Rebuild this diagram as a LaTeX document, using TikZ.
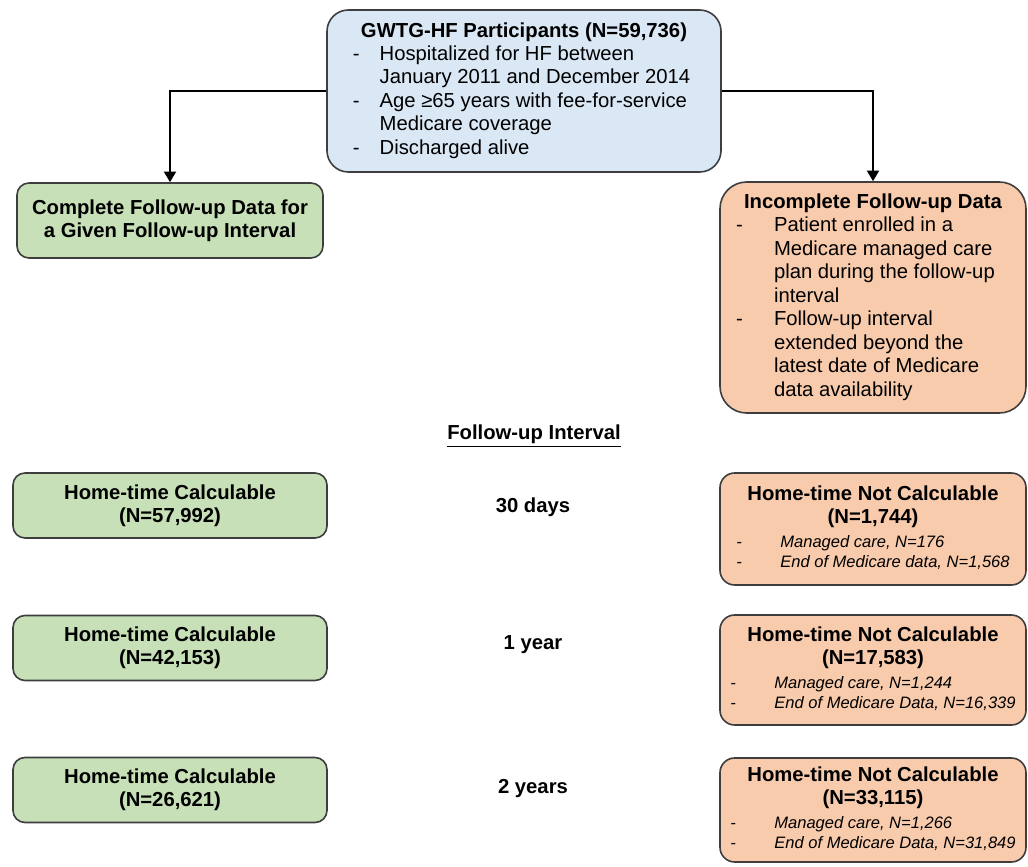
\documentclass[tikz,border=0pt]{standalone}
\usepackage{fontspec}
\setmainfont{Liberation Sans}
\usetikzlibrary{arrows.meta}

\definecolor{boxblue}{RGB}{218,231,244}
\definecolor{boxgreen}{RGB}{199,224,183}
\definecolor{boxorange}{RGB}{248,203,173}
\definecolor{boxline}{RGB}{62,62,62}

\newcommand{\hy}[1]{\makebox[#1][l]{-}}
\newcommand{\reason}[1]{\fontsize{12.4}{14}\selectfont\itshape\hy{33pt}&\fontsize{12.4}{14}\selectfont\itshape #1}

\begin{document}
\begin{tikzpicture}[x=0.75pt,y=-0.75pt]
    \tikzstyle{flowbox}=[draw=boxline, line width=1.2pt, inner sep=0pt, font=\fontsize{15.2}{17.6}\selectfont]
    \tikzstyle{startbox}=[flowbox, fill=boxblue, rounded corners=16pt, minimum width=295.5pt, minimum height=121.5pt]
    \tikzstyle{okbox}=[flowbox, fill=boxgreen, rounded corners=9pt, align=center, font=\fontsize{15.2}{17.6}\selectfont\bfseries]
    \tikzstyle{nobox}=[flowbox, fill=boxorange, minimum width=229.5pt]
    \tikzstyle{interval}=[font=\fontsize{15.2}{17.6}\selectfont\bfseries]
    \tikzstyle{flow}=[line width=1.6pt, -{Triangle[length=8pt,width=9pt]}]

    \useasboundingbox (0,0) rectangle (1028,867);

    % top
    \node[startbox] (gwtg) at (524,91) {%
        \begin{tabular}{@{}l@{}l@{}}
        \multicolumn{2}{c}{\textbf{GWTG-HF Participants (N=59,736)}}\\
        \hy{20pt} & Hospitalized for HF between\\
                  & January 2011 and December 2014\\
        \hy{20pt} & Age ≥65 years with fee-for-service\\
                  & Medicare coverage\\
        \hy{20pt} & Discharged alive
        \end{tabular}};

    % two branches
    \node[okbox, minimum width=229.5pt, minimum height=56.25pt] (complete) at (170,220.5)
        {Complete Follow-up Data for\\a Given Follow-up Interval};
    \node[nobox, rounded corners=20pt, minimum height=173.25pt] (incomplete) at (873,297.5) {%
        \begin{tabular}{@{}l@{}l@{}}
        \multicolumn{2}{c}{\textbf{Incomplete Follow-up Data}}\\
        \hy{28.5pt} & Patient enrolled in a\\
                    & Medicare managed care\\
                    & plan during the follow-up\\
                    & interval\\
        \hy{28.5pt} & Follow-up interval\\
                    & extended beyond the\\
                    & latest date of Medicare\\
                    & data availability
        \end{tabular}};

    \draw[flow] (gwtg.west) -| (complete.north);
    \draw[flow] (gwtg.east) -| (incomplete.north);

    \node[interval] (heading) at (534,436) {\underline{Follow-up Interval}};

    % 30 days
    \node[okbox, minimum width=235.5pt, minimum height=48.75pt] (calc30) at (170,505.5)
        {Home-time Calculable\\(N=57,992)};
    \node[interval] (int30) at (533,507) {30 days};
    \node[nobox, rounded corners=11pt, minimum height=84pt] (nocalc30) at (873,529) {%
        \begin{tabular}{@{}l@{}l@{}}
        \multicolumn{2}{c}{\textbf{Home-time Not Calculable}}\\
        \multicolumn{2}{c}{\textbf{(N=1,744)}}\\
        \reason{Managed care, N=176}\\[-2.6pt]
        \reason{End of Medicare data, N=1,568}
        \end{tabular}};

    % 1 year
    \node[okbox, minimum width=235.5pt, minimum height=48.75pt] (calc1) at (170,648)
        {Home-time Calculable\\(N=42,153)};
    \node[interval] (int1) at (533,645) {1 year};
    \node[nobox, rounded corners=11pt, minimum height=82.5pt] (nocalc1) at (873,670) {%
        \begin{tabular}{@{}l@{}l@{}}
        \multicolumn{2}{c}{\textbf{Home-time Not Calculable}}\\
        \multicolumn{2}{c}{\textbf{(N=17,583)}}\\
        \reason{Managed care, N=1,244}\\[-2.6pt]
        \reason{End of Medicare Data, N=16,339}
        \end{tabular}};

    % 2 years
    \node[okbox, minimum width=235.5pt, minimum height=48.75pt] (calc2) at (170,790)
        {Home-time Calculable\\(N=26,621)};
    \node[interval] (int2) at (533,789) {2 years};
    \node[nobox, rounded corners=11pt, minimum height=78pt] (nocalc2) at (873,810) {%
        \begin{tabular}{@{}l@{}l@{}}
        \multicolumn{2}{c}{\textbf{Home-time Not Calculable}}\\
        \multicolumn{2}{c}{\textbf{(N=33,115)}}\\
        \reason{Managed care, N=1,266}\\[-2.6pt]
        \reason{End of Medicare Data, N=31,849}
        \end{tabular}};
\end{tikzpicture}
\end{document}
